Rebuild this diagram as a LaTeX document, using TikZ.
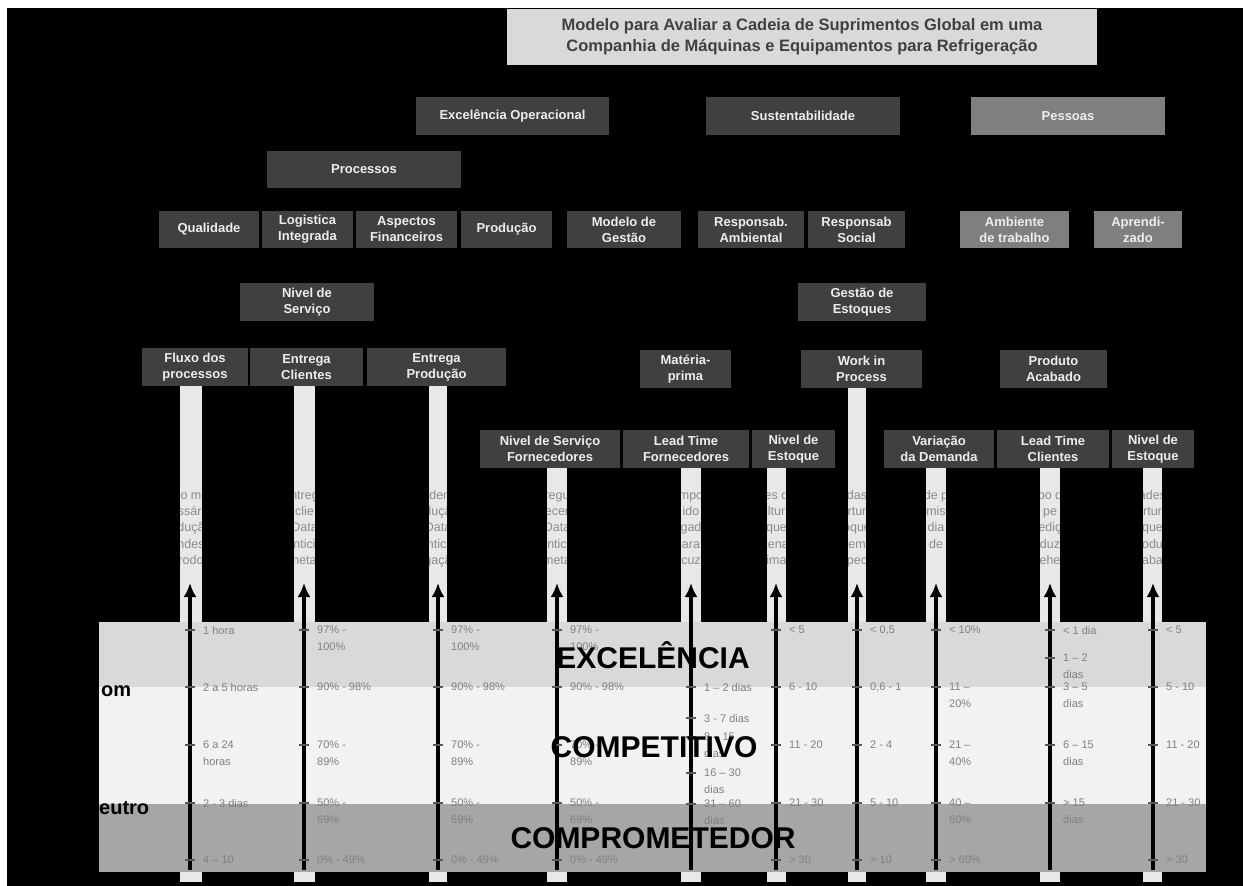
\documentclass[tikz,border=0pt]{standalone}
\usepackage{fontspec}
\setmainfont{Liberation Sans}
\usetikzlibrary{arrows.meta}
\definecolor{boxdark}{HTML}{404040}
\definecolor{boxmid}{HTML}{7F7F7F}
\definecolor{titlefill}{HTML}{D9D9D9}
\definecolor{titletext}{HTML}{404040}
\definecolor{boxtext}{HTML}{EDEDED}
\definecolor{bandA}{HTML}{D9D9D9}
\definecolor{bandB}{HTML}{F2F2F2}
\definecolor{bandC}{HTML}{A6A6A6}
\definecolor{barfill}{HTML}{E8E8E8}
\definecolor{valtext}{HTML}{808080}
\definecolor{fragtext}{HTML}{8C8C8C}
\definecolor{tickcol}{HTML}{595959}

\newcommand{\boxat}[7]{\node[#1, minimum width={(#5)-(#3)}, minimum height={(#6)-(#4)}] (#2) at ({((#3)+(#5))/2},{((#4)+(#6))/2}) {#7};}
\newcommand{\barat}[4]{\fill[barfill] (#1,#2) rectangle (#3,#4);}
\newcommand{\vl}[4]{\draw[tk] ({#2-5},#3) -- ({#2+5},#3);
  \node[val] (#1) at ({#2+13},{#3-4}) {#4};}
\newcommand{\frags}[4]{% name, x1, x2, list
  \begin{scope}
    \clip (#2,470) rectangle (#3,600);
    \foreach \t [count=\i] in {#4}
      \node[frag] (#1-\i) at ({(#2+#3)/2},{483+16.3*\i}) {\t};
  \end{scope}
  \fill[black] ({#2-18},476) rectangle (#2,578);
  \fill[black] (#3,476) rectangle ({#3+18},578);}
\newcommand{\colarrow}[2]{%
  \coordinate (#1s) at (#2,870);
  \coordinate (#1e) at (#2,583);
  \draw[arr] (#1s) -- (#1e);}

\tikzset{
  box/.style={fill=boxdark, text=boxtext, font=\bfseries\fontsize{13}{16}\selectfont, align=center, inner sep=1pt, outer sep=0pt},
  boxp/.style={box, fill=boxmid},
  titlebox/.style={fill=titlefill, text=titletext, font=\bfseries\fontsize{16.5}{21}\selectfont, align=center, inner sep=0pt, outer sep=0pt},
  val/.style={anchor=north west, inner sep=0pt, text=valtext, font=\fontsize{11}{16.5}\selectfont, align=left},
  frag/.style={anchor=base, inner sep=0pt, text=fragtext, font=\fontsize{12.5}{13}\selectfont},
  big/.style={font=\bfseries\fontsize{30}{30}\selectfont, text=black, inner sep=0pt},
  side/.style={font=\bfseries\fontsize{20}{20}\selectfont, text=black, inner sep=0pt, anchor=west},
  arr/.style={line width=3.5pt, black, -{Latex[length=14pt,width=13pt]}},
  tk/.style={line width=1.2pt, tickcol}
}

\begin{document}
\begin{tikzpicture}[x=1pt,y=-1pt]
\useasboundingbox (0,0) rectangle (1243,886);
\fill[white] (0,0) rectangle (1243,886);
\fill[black] (7,8) rectangle (1243,886);

% title
\boxat{titlebox}{title}{507}{9}{1097}{65}{Modelo para Avaliar a Cadeia de Suprimentos Global em uma\\Companhia de Máquinas e Equipamentos para Refrigeração}

% row 1
\boxat{box}{exc}{416}{97}{609}{135}{Excelência Operacional}
\boxat{box}{sus}{706}{97}{900}{135}{Sustentabilidade}
\boxat{boxp}{pes}{971}{97}{1165}{135}{Pessoas}
% row 2
\boxat{box}{proc}{267}{151}{461}{188}{Processos}
% row 3
\boxat{box}{qual}{159}{211}{259}{248}{Qualidade}
\boxat{box}{logi}{262}{211}{353}{248}{Logistica\\Integrada}
\boxat{box}{aspf}{356}{211}{457}{248}{Aspectos\\Financeiros}
\boxat{box}{prod}{461}{211}{552}{248}{Produção}
\boxat{box}{modg}{567}{211}{681}{248}{Modelo de\\Gestão}
\boxat{box}{ramb}{698}{211}{804}{248}{Responsab.\\Ambiental}
\boxat{box}{rsoc}{808}{211}{905}{248}{Responsab\\Social}
\boxat{boxp}{ambt}{960}{211}{1069}{248}{Ambiente\\de trabalho}
\boxat{boxp}{apre}{1094}{211}{1182}{248}{Aprendi-\\zado}
% row 4
\boxat{box}{nserv}{240}{283}{374}{321}{Nivel de\\Serviço}
\boxat{box}{gest}{798}{283}{926}{321}{Gestão de\\Estoques}
% row 5
\boxat{box}{flux}{142}{348}{248}{386}{Fluxo dos\\processos}
\boxat{box}{entc}{250}{348}{363}{386}{Entrega\\Clientes}
\boxat{box}{entp}{367}{348}{506}{386}{Entrega\\Produção}
\boxat{box}{matp}{640}{350}{731}{388}{Matéria-\\prima}
\boxat{box}{wip}{801}{350}{922}{388}{Work in\\Process}
\boxat{box}{pac}{1000}{350}{1107}{388}{Produto\\Acabado}
% row 6
\boxat{box}{nsf}{480}{430}{620}{468}{Nivel de Serviço\\Fornecedores}
\boxat{box}{ltf}{623}{430}{749}{468}{Lead Time\\Fornecedores}
\boxat{box}{neA}{752}{430}{835}{468}{Nivel de\\Estoque}
\boxat{box}{vard}{884}{430}{994}{468}{Variação\\da Demanda}
\boxat{box}{ltc}{997}{430}{1109}{468}{Lead Time\\Clientes}
\boxat{box}{neB}{1112}{430}{1194}{468}{Nivel de\\Estoque}

% bars
\barat{180}{386}{202}{882}
\barat{294}{386}{315}{882}
\barat{429}{386}{447}{882}
\barat{547}{468}{567}{882}
\barat{681}{468}{701}{882}
\barat{767}{468}{786}{882}
\barat{848}{388}{866}{882}
\barat{926}{468}{946}{882}
\barat{1040}{468}{1060}{882}
\barat{1143}{468}{1162}{882}

% clipped text fragments in bars
\frags{fa}{180}{202}{po mé,ssári,duçã,ndes,rodo}
\frags{fb}{294}{315}{ntreg,clie,Data,ntici,neta}
\frags{fc}{429}{447}{ndem,duçã,Data,ntici,gaçã}
\frags{fd}{547}{567}{regu,ecer,Data,ntic,meta}
\frags{fe}{681}{701}{mpo,ido,gad,ara,cuz}
\frags{ff}{767}{786}{es d,ltur,que,tena,ima}
\frags{fg}{848}{866}{das,rtur,oque,em,pec}
\frags{fh}{926}{946}{de p,mis,dia,de}
\frags{fi}{1040}{1060}{po d,pe,ediç,duz,ehe}
\frags{fj}{1143}{1162}{ades,rtur,que,odu,aba}

% bands
\fill[bandA] (99,622) rectangle (1206,687);
\fill[bandB] (99,687) rectangle (1206,804);
\fill[bandC] (99,804) rectangle (1206,872);

% arrows
\colarrow{a1}{190}
\colarrow{a2}{304}
\colarrow{a3}{438}
\colarrow{a4}{557}
\colarrow{a5}{691}
\colarrow{a6}{776}
\colarrow{a7}{857}
\colarrow{a8}{936}
\colarrow{a9}{1050}
\colarrow{a10}{1153}

% values
\begin{scope}
\clip (99,600) rectangle (1206,872);
\vl{v1a}{190}{630}{1 hora}
\vl{v1b}{190}{687}{2 a 5 horas}
\vl{v1c}{190}{745}{6 a 24\\horas}
\vl{v1d}{190}{803}{2 - 3 dias}
\vl{v1e}{190}{860}{4 – 10}
\vl{v2a}{304}{630}{97\% -\\100\%}
\vl{v2b}{304}{687}{90\% - 98\%}
\vl{v2c}{304}{745}{70\% -\\89\%}
\vl{v2d}{304}{803}{50\% -\\69\%}
\vl{v2e}{304}{860}{0\% - 49\%}
\vl{v3a}{438}{630}{97\% -\\100\%}
\vl{v3b}{438}{687}{90\% - 98\%}
\vl{v3c}{438}{745}{70\% -\\89\%}
\vl{v3d}{438}{803}{50\% -\\69\%}
\vl{v3e}{438}{860}{0\% - 49\%}
\vl{v4a}{557}{630}{97\% -\\100\%}
\vl{v4b}{557}{687}{90\% - 98\%}
\vl{v4c}{557}{745}{70\% -\\89\%}
\vl{v4d}{557}{803}{50\% -\\69\%}
\vl{v4e}{557}{860}{0\% - 49\%}
\vl{v5a}{691}{687}{1 – 2 dias}
\vl{v5b}{691}{718}{3 - 7 dias}
\vl{v5c}{691}{737}{8 – 15\\dias}
\vl{v5d}{691}{773}{16 – 30\\dias}
\vl{v5e}{691}{804}{31 – 60\\dias}
\vl{v6a}{776}{630}{< 5}
\vl{v6b}{776}{687}{6 - 10}
\vl{v6c}{776}{745}{11 - 20}
\vl{v6d}{776}{803}{21 - 30}
\vl{v6e}{776}{860}{> 30}
\vl{v7a}{857}{630}{< 0,5}
\vl{v7b}{857}{687}{0,6 - 1}
\vl{v7c}{857}{745}{2 - 4}
\vl{v7d}{857}{803}{5 - 10}
\vl{v7e}{857}{860}{> 10}
\vl{v8a}{936}{630}{< 10\%}
\vl{v8b}{936}{687}{11 –\\20\%}
\vl{v8c}{936}{745}{21 –\\40\%}
\vl{v8d}{936}{803}{40 –\\60\%}
\vl{v8e}{936}{860}{> 60\%}
\vl{v9a}{1050}{630}{< 1 dia}
\vl{v9b}{1050}{658}{1 – 2\\dias}
\vl{v9c}{1050}{687}{3 – 5\\dias}
\vl{v9d}{1050}{745}{6 – 15\\dias}
\vl{v9e}{1050}{803}{> 15\\dias}
\vl{v10a}{1153}{630}{< 5}
\vl{v10b}{1153}{687}{5 - 10}
\vl{v10c}{1153}{745}{11 - 20}
\vl{v10d}{1153}{803}{21 - 30}
\vl{v10e}{1153}{860}{> 30}
\end{scope}

% big labels
\node[big] (lexc) at (653,655) {EXCELÊNCIA};
\node[big] (lcomp) at (654,747) {COMPETITIVO};
\node[big] (lcpt) at (653,838) {COMPROMETEDOR};
\node[side] (lbom) at (101,691) {om};
\node[side] (lneu) at (99,808) {eutro};
\end{tikzpicture}
\end{document}
